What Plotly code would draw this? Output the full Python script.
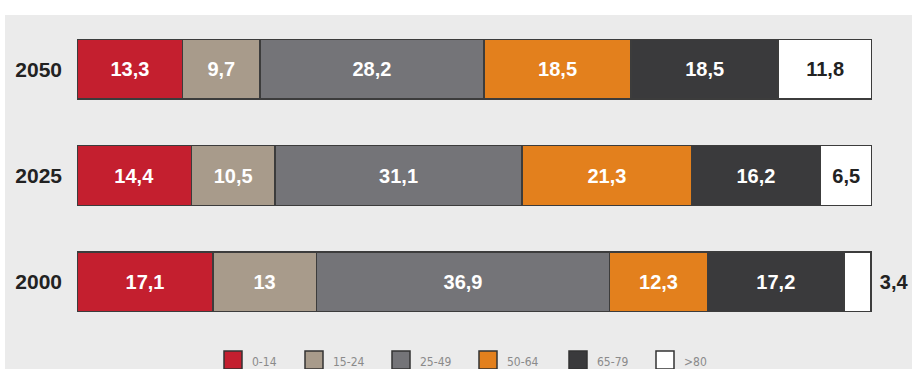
import plotly.graph_objects as go

# Population share by age group (%)
years = ["2000", "2025", "2050"]
age_groups = ["0-14", "15-24", "25-49", "50-64", "65-79", ">80"]
shares = {
    "0-14":  [17.1, 14.4, 13.3],
    "15-24": [13.0, 10.5, 9.7],
    "25-49": [36.9, 31.1, 28.2],
    "50-64": [12.3, 21.3, 18.5],
    "65-79": [17.2, 16.2, 18.5],
    ">80":   [3.4, 6.5, 11.8],
}
colors = ["#c41f2f", "#a89b8b", "#747478", "#e3801d", "#3a3a3c", "#ffffff"]
text_colors = ["#ffffff", "#ffffff", "#ffffff", "#ffffff", "#ffffff", "#222222"]

W, H = 912, 369
BG = "#ebebeb"
LABEL_FONT = "Liberation Sans, Arial, sans-serif"


def fmt(v):
    s = f"{v:.1f}".replace(".", ",")
    return s[:-2] if s.endswith(",0") else s


fig = go.Figure()
for grp, col, tcol in zip(age_groups, colors, text_colors):
    vals = shares[grp]
    is_last = grp == age_groups[-1]
    positions = ["inside"] * len(vals)
    if is_last:
        positions = ["outside" if v < 5 else "inside" for v in vals]
    labels = [("\u00a0" if p == "outside" else "") + fmt(v)
              for v, p in zip(vals, positions)]
    fig.add_trace(go.Bar(
        y=years, x=vals, name=grp, orientation="h",
        marker=dict(color=col, line=dict(color="#3c3c3c", width=1.5)),
        text=labels,
        textposition=positions,
        insidetextanchor="middle",
        textangle=0,
        constraintext="none",
        textfont=dict(family=LABEL_FONT, size=20, color=tcol, weight="bold"),
        outsidetextfont=dict(family=LABEL_FONT, size=20, color="#222222", weight="bold"),
        cliponaxis=False,
        width=0.56,
        hoverinfo="skip",
    ))

ml, mr, mt, mb = 77, 40, 16, 34
pw = W - ml - mr
ph = H - mt - mb


def px_to_paper_x(px):
    return (px - ml) / pw


def px_to_paper_y(py):
    return 1 - (py - mt) / ph


shapes = [
    # white frame strip along the top and left edges
    dict(type="rect", xref="paper", yref="paper",
         x0=px_to_paper_x(-5), x1=px_to_paper_x(W + 5),
         y0=px_to_paper_y(15), y1=px_to_paper_y(-5),
         fillcolor="#ffffff", line=dict(width=0), layer="below"),
    dict(type="rect", xref="paper", yref="paper",
         x0=px_to_paper_x(-5), x1=px_to_paper_x(5),
         y0=px_to_paper_y(H + 5), y1=px_to_paper_y(-5),
         fillcolor="#ffffff", line=dict(width=0), layer="below"),
]
annotations = []

# custom legend row along the bottom
legend_x = [224, 305, 392, 479, 569, 656]
for gx, grp, col in zip(legend_x, age_groups, colors):
    shapes.append(dict(
        type="rect", xref="paper", yref="paper",
        x0=px_to_paper_x(gx), x1=px_to_paper_x(gx + 18),
        y0=px_to_paper_y(369), y1=px_to_paper_y(351),
        fillcolor=col, line=dict(color="#333333", width=1.5), layer="above"))
    annotations.append(dict(
        xref="paper", yref="paper",
        x=px_to_paper_x(gx + 26), y=px_to_paper_y(362),
        xanchor="left", yanchor="middle", showarrow=False,
        text=grp, font=dict(family="Liberation Sans Narrow, DejaVu Sans Condensed, Arial", size=12, color="#8a8a8a")))

fig.update_layout(
    width=W, height=H,
    barmode="stack",
    showlegend=False,
    paper_bgcolor=BG, plot_bgcolor=BG,
    margin=dict(l=ml, r=mr, t=mt, b=mb, pad=0),
    xaxis=dict(range=[0, 100], visible=False, fixedrange=True),
    yaxis=dict(categoryorder="array", categoryarray=years,
               range=[-0.5, 2.5], showgrid=False, zeroline=False, showline=False,
               ticks="", ticklabelstandoff=14,
               tickfont=dict(family=LABEL_FONT, size=21, color="#222222", weight="bold")),
    shapes=shapes,
    annotations=annotations,
    font=dict(family=LABEL_FONT),
)

fig.write_html("out.html")
